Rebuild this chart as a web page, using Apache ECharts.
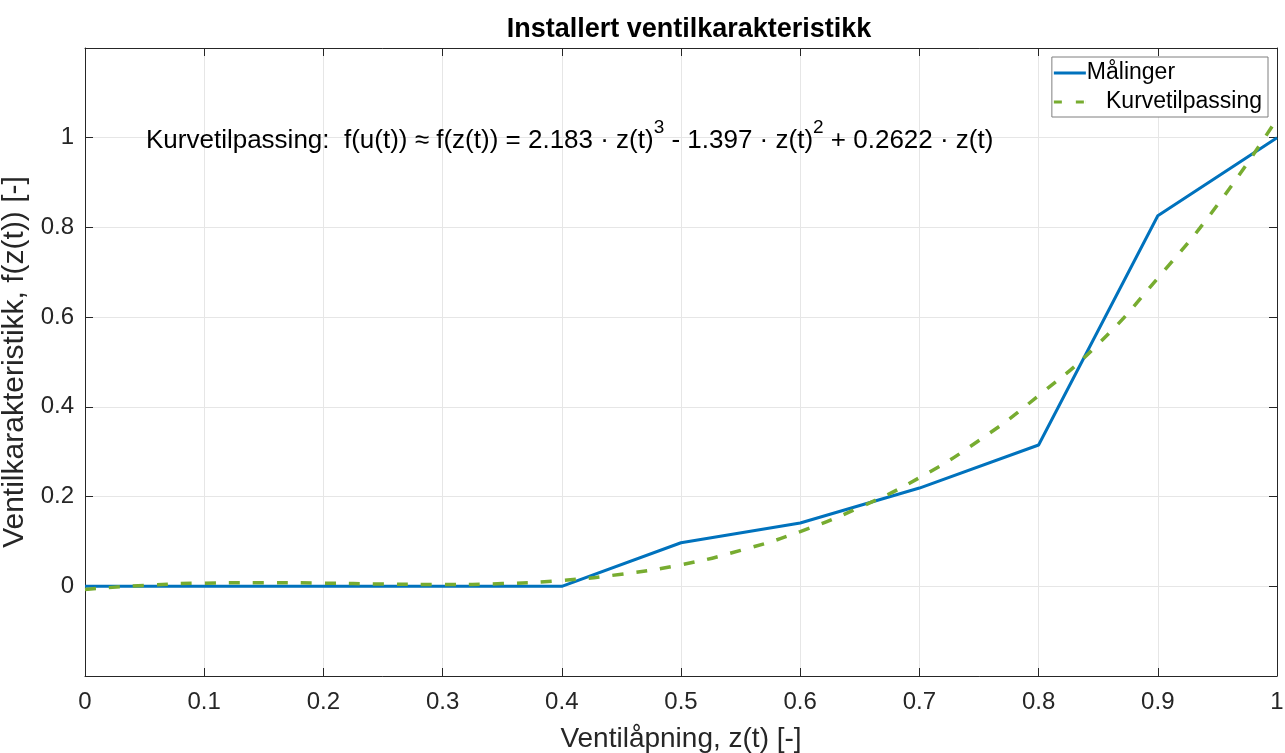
<!DOCTYPE html>
<html>
<head>
<meta charset="utf-8">
<script src="https://cdn.jsdelivr.net/npm/echarts@6/dist/echarts.min.js"></script>
<style>
    html, body { margin: 0; padding: 0; background: #fff; }
    #main { width: 1285px; height: 753px; }
</style>
</head>
<body>
<div id="main"></div>
<script>
// målte punkter
var zMaaling = [0, 0.1, 0.2, 0.3, 0.4, 0.5, 0.6, 0.7, 0.8, 0.9, 1.0];
var fMaaling = [0, 0, 0, 0, 0, 0.097, 0.141, 0.219, 0.315, 0.826, 1.0];

// kurvetilpassing, lest av figuren
var zFit = [0, 0.05, 0.1, 0.15, 0.2, 0.25, 0.3, 0.35, 0.4, 0.45, 0.5,
            0.55, 0.6, 0.65, 0.7, 0.75, 0.8, 0.85, 0.9, 0.95, 1.0];
var fFit = [-0.007, 0.002, 0.007, 0.008, 0.007, 0.005, 0.004, 0.006, 0.013, 0.027, 0.048,
            0.080, 0.122, 0.176, 0.242, 0.325, 0.425, 0.540, 0.687, 0.850, 1.042];

var xTicks = [0, 0.1, 0.2, 0.3, 0.4, 0.5, 0.6, 0.7, 0.8, 0.9, 1];
var yTicks = [0, 0.2, 0.4, 0.6, 0.8, 1];

function pairs(xs, ys) {
    return xs.map(function (x, i) { return [x, ys[i]]; });
}

var chart = echarts.init(document.getElementById('main'));
var font = 'Arial, "Liberation Sans", Helvetica, sans-serif';
var axisCol = '#262626';

var option = {
    animation: false,
    backgroundColor: '#fff',
    textStyle: { fontFamily: font },
    title: {
        text: 'Installert ventilkarakteristikk',
        left: 684,
        textAlign: 'center',
        top: 11,
        textStyle: { fontSize: 27, fontWeight: 'bold', color: '#000', fontFamily: font }
    },
    grid: { left: 85, right: 8, top: 48, bottom: 77, containLabel: false, outerBoundsMode: 'none' },
    legend: {
        right: 17,
        top: 57,
        orient: 'vertical',
        itemGap: 3,
        itemWidth: 32,
        itemHeight: 10,
        padding: [3, 6, 2, 2],
        borderColor: '#7f7f7f',
        borderWidth: 1,
        borderRadius: 0,
        backgroundColor: '#fff',
        textStyle: { fontSize: 23, color: '#000', fontFamily: font, padding: [0, 0, 0, -4], lineHeight: 26 },
        formatter: function (name) {
            return name === 'Kurvetilpassing' ? '   ' + name : name;
        },
        data: [
            { name: 'Målinger', icon: 'path://M0,3.5 L32,3.5 L32,6.5 L0,6.5 Z' },
            { name: 'Kurvetilpassing', icon: 'path://M0,3.5 L8,3.5 L8,6.5 L0,6.5 Z M22,3.5 L30,3.5 L30,6.5 L22,6.5 Z M31.9,3.5 L32,3.5 L32,6.5 L31.9,6.5 Z' }
        ]
    },
    xAxis: [{
        type: 'value',
        min: 0, max: 1, interval: 0.1,
        name: 'Ventilåpning, z(t) [-]',
        nameLocation: 'middle',
        nameGap: 49,
        nameTextStyle: { fontSize: 28, color: axisCol, fontFamily: font },
        axisLine: { onZero: false, lineStyle: { color: axisCol, width: 1 } },
        axisTick: { inside: true, length: 8, lineStyle: { color: axisCol } },
        axisLabel: { fontSize: 24, color: axisCol, margin: 14, formatter: function (v) { return String(+v.toFixed(1)); } },
        splitLine: { show: true, lineStyle: { color: '#e6e6e6', width: 1 } }
    }, {
        type: 'value', position: 'top',
        min: 0, max: 1, interval: 0.1,
        axisLine: { show: true, onZero: false, lineStyle: { color: axisCol, width: 1 } },
        axisTick: { inside: true, length: 8, lineStyle: { color: axisCol } },
        axisLabel: { show: false },
        splitLine: { show: false }
    }],
    yAxis: [{
        type: 'value',
        min: -0.2, max: 1.2, interval: 0.2,
        name: 'Ventilkarakteristikk, f(z(t)) [-]',
        nameLocation: 'middle',
        nameGap: 45,
        nameTextStyle: { fontSize: 30, color: axisCol, fontFamily: font },
        axisLine: { show: true, onZero: false, lineStyle: { color: axisCol, width: 1 } },
        axisTick: { show: true, inside: true, length: 8, lineStyle: { color: axisCol } },
        axisLabel: {
            fontSize: 24, color: axisCol, margin: 11,
            formatter: function (v) {
                var r = Math.round(v * 10) / 10;
                return yTicks.indexOf(r) >= 0 ? String(r) : '';
            }
        },
        splitLine: { show: true, lineStyle: { color: '#e6e6e6', width: 1 } }
    }, {
        type: 'value', position: 'right',
        min: -0.2, max: 1.2, interval: 0.2,
        axisLine: { show: true, onZero: false, lineStyle: { color: axisCol, width: 1 } },
        axisTick: { show: true, inside: true, length: 8, lineStyle: { color: axisCol } },
        axisLabel: { show: false },
        splitLine: { show: false }
    }],
    graphic: [{
        type: 'text',
        left: 146,
        top: 118,
        z: 10,
        style: {
            text: '{t|Kurvetilpassing:  f(u(t)) ≈ f(z(t)) = 2.183 · z(t)}{s|3}{t| - 1.397 · z(t)}{s|2}{t| + 0.2622 · z(t)}',
            rich: {
                t: { fontSize: 26, fontFamily: font, fill: '#000', verticalAlign: 'bottom', lineHeight: 36 },
                s: { fontSize: 19, fontFamily: font, fill: '#000', verticalAlign: 'top', lineHeight: 19 }
            }
        }
    }],
    series: [{
        name: 'Målinger',
        type: 'line',
        data: pairs(zMaaling, fMaaling),
        showSymbol: false,
        lineStyle: { color: '#0072BD', width: 3 },
        itemStyle: { color: '#0072BD' },
        z: 3
    }, {
        name: 'Kurvetilpassing',
        type: 'line',
        data: pairs(zFit, fFit),
        smooth: true,
        showSymbol: false,
        lineStyle: { color: '#77AC30', width: 3.5, type: [11, 13] },
        itemStyle: { color: '#77AC30' },
        z: 4
    }]
};

chart.setOption(option);
</script>
</body>
</html>
